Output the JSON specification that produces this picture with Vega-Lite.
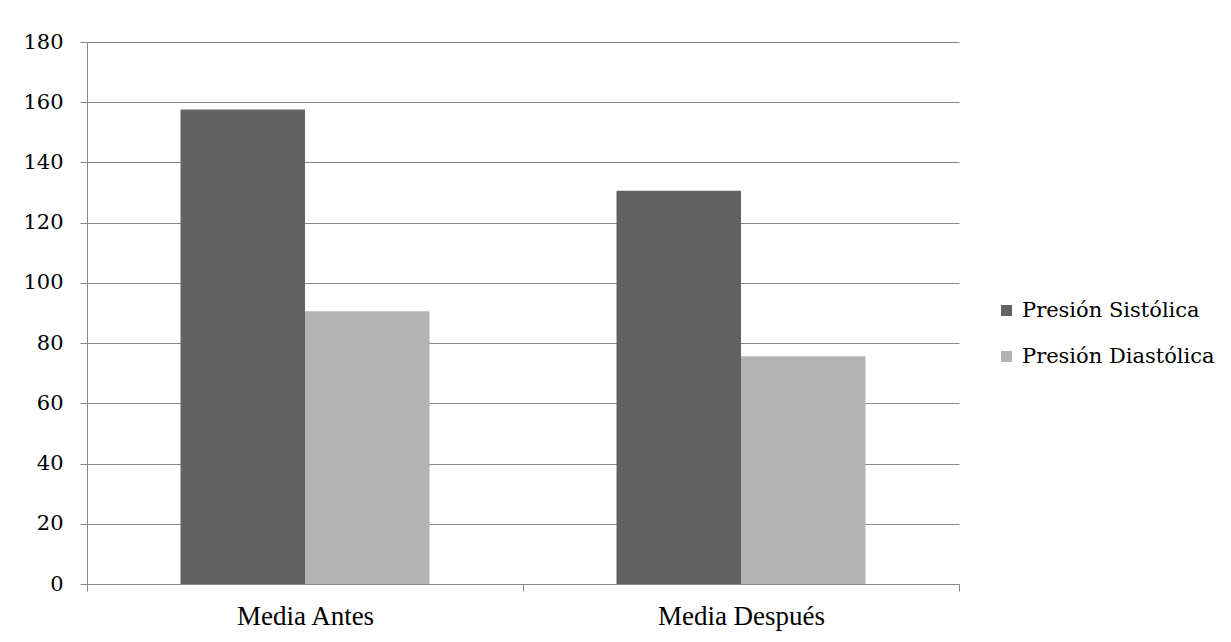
{
  "$schema": "https://vega.github.io/schema/vega-lite/v6.json",
  "width": 872,
  "height": 542,
  "autosize": "none",
  "padding": {"left": 87, "top": 42, "right": 272, "bottom": 58},
  "background": "white",
  "config": {
    "view": {"stroke": null}
  },
  "data": {
    "values": [
      {"grupo": "Media Antes", "serie": "Presión Sistólica", "valor": 157.6},
      {"grupo": "Media Antes", "serie": "Presión Diastólica", "valor": 90.6},
      {"grupo": "Media Después", "serie": "Presión Sistólica", "valor": 130.6},
      {"grupo": "Media Después", "serie": "Presión Diastólica", "valor": 75.6}
    ]
  },
  "mark": {"type": "bar"},
  "encoding": {
    "x": {
      "field": "grupo",
      "type": "nominal",
      "sort": ["Media Antes", "Media Después"],
      "scale": {"paddingInner": 0, "paddingOuter": 0},
      "axis": {
        "title": null,
        "labelAngle": 0,
        "labelFont": "Liberation Serif",
        "labelFontSize": 27,
        "labelColor": "#000000",
        "labelPadding": 12,
        "tickBand": "extent",
        "tickSize": 7,
        "tickColor": "#868686",
        "domainColor": "#868686",
        "grid": false
      }
    },
    "xOffset": {
      "field": "serie",
      "type": "nominal",
      "sort": ["Presión Sistólica", "Presión Diastólica"],
      "scale": {"paddingInner": 0, "paddingOuter": 0.751}
    },
    "y": {
      "field": "valor",
      "type": "quantitative",
      "scale": {"domain": [0, 180], "nice": false},
      "axis": {
        "title": null,
        "values": [0, 20, 40, 60, 80, 100, 120, 140, 160, 180],
        "labelFont": "DejaVu Serif",
        "labelFontSize": 21,
        "labelColor": "#000000",
        "labelPadding": 17,
        "tickSize": 7,
        "tickColor": "#868686",
        "domainColor": "#868686",
        "gridColor": "#868686",
        "gridOpacity": 1
      }
    },
    "color": {
      "field": "serie",
      "type": "nominal",
      "sort": ["Presión Sistólica", "Presión Diastólica"],
      "scale": {"domain": ["Presión Sistólica", "Presión Diastólica"], "range": ["#626262", "#b3b3b3"]},
      "legend": {
        "title": null,
        "orient": "none",
        "legendX": 909,
        "legendY": 258,
        "symbolType": "square",
        "symbolSize": 121,
        "symbolStrokeWidth": 0,
        "labelFont": "DejaVu Serif",
        "labelFontSize": 21,
        "labelColor": "#000000",
        "labelOffset": 5,
        "rowPadding": 24,
        "labelLimit": 400
      }
    }
  }
}
